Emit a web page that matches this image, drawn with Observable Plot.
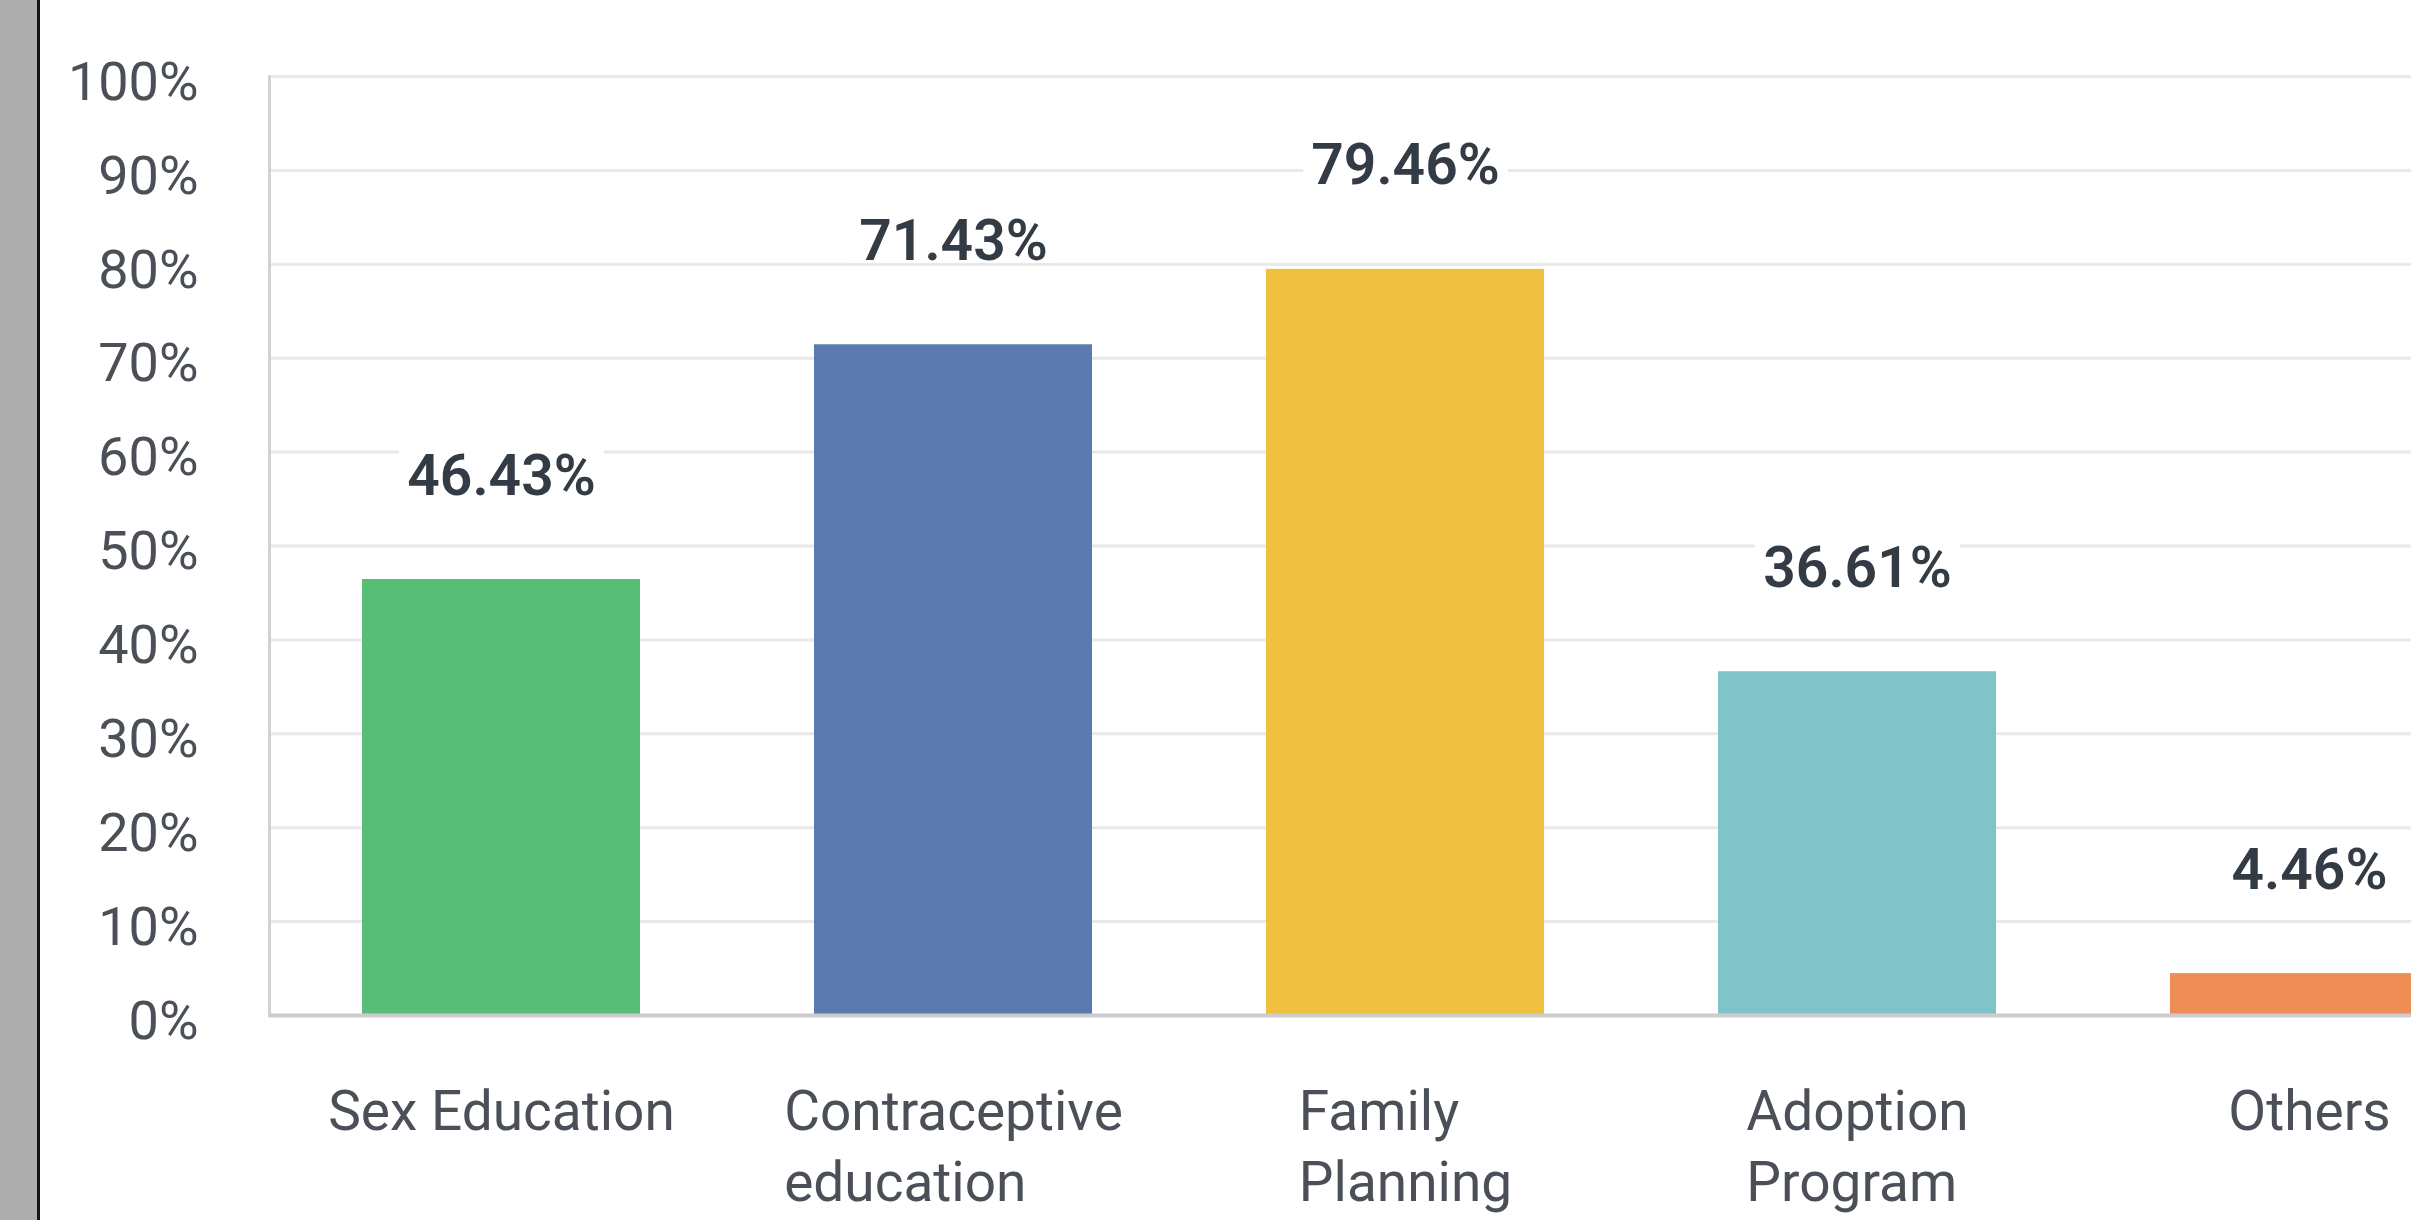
<!DOCTYPE html>
<html>
<head>
<meta charset="utf-8">
<script src="https://cdn.jsdelivr.net/npm/d3@7"></script>
<script src="https://cdn.jsdelivr.net/npm/@observablehq/plot@0.6"></script>
<style>
  html, body { margin: 0; padding: 0; background: #ffffff; overflow: hidden; width: 2411px; height: 1220px; }
  #chart { position: absolute; left: 0; top: 0; }
  #chart svg { max-width: none !important; display: block; }
  #strip { position: absolute; left: 0; top: 0; width: 37px; height: 1220px; background: #adadad; border-right: 3px solid #151515; z-index: 5; }
</style>
</head>
<body>
<div id="chart"></div>
<div id="strip"></div>
<script>
// ---- data ----
const categories = ["Sex Education", "Contraceptive education", "Family Planning", "Adoption Program", "Others"];
const tickLabels = ["Sex Education", "Contraceptive\neducation", "Family\nPlanning", "Adoption\nProgram", "Others"];
const values = [46.43, 71.43, 79.46, 36.61, 4.46];
const yTicks = [0, 10, 20, 30, 40, 50, 60, 70, 80, 90, 100];
const palette = ["#57bd77", "#5b7bb0", "#efbf3f", "#80c4c9", "#ef8d57"];

const data = categories.map((c, i) => ({category: c, value: values[i]}));

const chart = Plot.plot({
  width: 2540,
  height: 1220,
  marginLeft: 269,
  marginRight: 0,
  marginTop: 76,
  marginBottom: 205,
  style: {fontFamily: "Roboto, 'Open Sans', sans-serif", background: "#ffffff", maxWidth: "none"},
  x: {domain: categories, paddingInner: 0.386, paddingOuter: 0.2, axis: null},
  y: {domain: [0, 100], axis: null},
  color: {domain: categories, range: palette},
  marks: [
    Plot.gridY(yTicks, {stroke: "#e9e9e9", strokeOpacity: 1, strokeWidth: 3}),
    Plot.barY(data, {x: "category", y: "value", fill: "category"}),
    Plot.frame({anchor: "left", stroke: "#d2d2d2", strokeWidth: 3}),
    Plot.ruleY([0], {stroke: "#cccccc", strokeWidth: 4}),
    Plot.axisY({ticks: yTicks, tickFormat: d => d + "%", tickSize: 0, tickPadding: 71,
      fontSize: 54, color: "#4b5058", dy: 6, label: null}),
    Plot.axisX({tickFormat: d => tickLabels[categories.indexOf(d)], tickSize: 0, tickPadding: 64,
      fontSize: 55, lineHeight: 1.29, color: "#4b5058", label: null}),
    Plot.text(data, {x: "category", y: "value", text: d => d.value.toFixed(2) + "%",
      dy: -85, lineAnchor: "bottom", fontSize: 57, fontWeight: 600, fill: "#333b45"})
  ]
});

document.getElementById("chart").appendChild(chart);

// white backing boxes behind value labels (break gridlines like the original)
chart.querySelectorAll('g[aria-label="text"] text').forEach(t => {
  const b = t.getBBox();
  const r = document.createElementNS("http://www.w3.org/2000/svg", "rect");
  r.setAttribute("x", b.x - 8);
  r.setAttribute("y", b.y + 3);
  r.setAttribute("width", b.width + 16);
  r.setAttribute("height", b.height - 14);
  r.setAttribute("fill", "#ffffff");
  r.setAttribute("stroke", "none");
  const tr = t.getAttribute("transform");
  if (tr) r.setAttribute("transform", tr);
  t.parentNode.insertBefore(r, t);
});

// multi-line category labels: block centred under bar, lines left-aligned
chart.querySelectorAll('g[aria-label="x-axis tick label"] text').forEach(t => {
  const w = t.getBBox().width;
  t.setAttribute("text-anchor", "start");
  const tr = t.getAttribute("transform") || "";
  t.setAttribute("transform", tr + ` translate(${-w / 2},0)`);
});
</script>
</body>
</html>
